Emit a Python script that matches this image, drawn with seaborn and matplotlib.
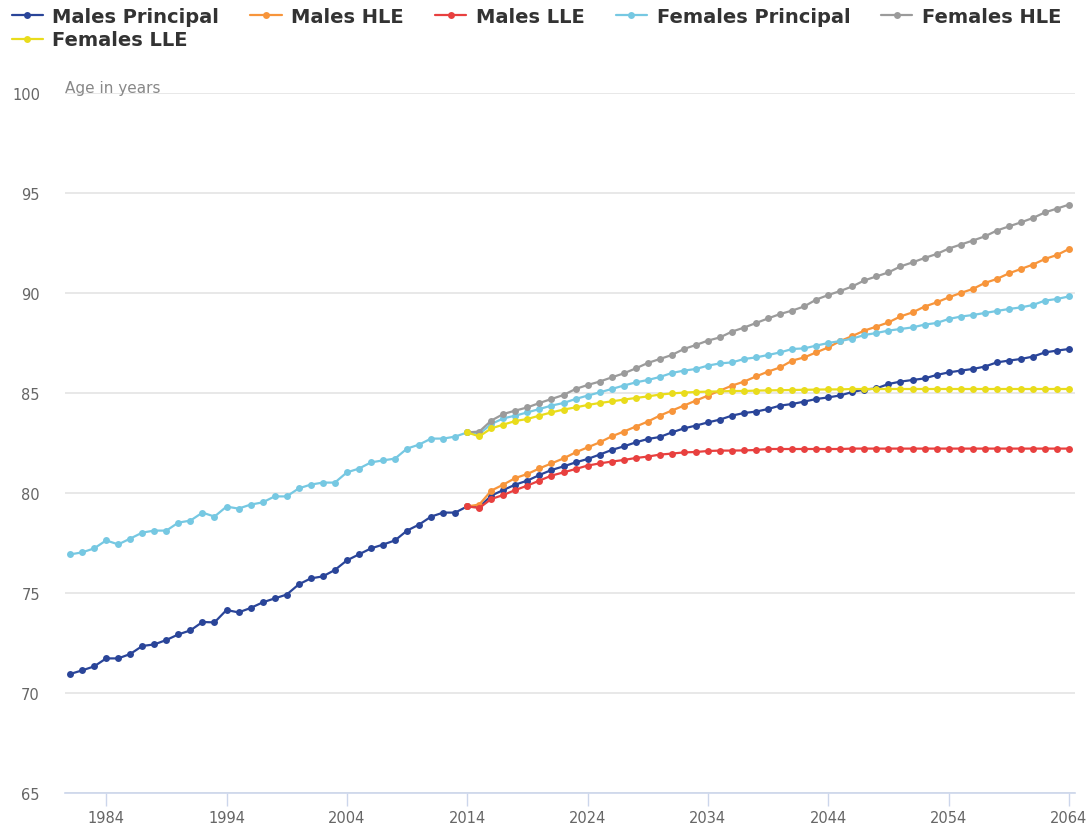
import numpy as np
import pandas as pd
import matplotlib
matplotlib.use('Agg')
import matplotlib.pyplot as plt
import seaborn as sns

# years
years_all = list(range(1981, 2065))
years_proj = list(range(2014, 2065))

# values (age in years)
males_principal = [70.95, 71.13, 71.33, 71.73, 71.73, 71.95, 72.35, 72.43, 72.65, 72.93,
                   73.13, 73.55, 73.53, 74.15, 74.03, 74.25, 74.53, 74.73, 74.92, 75.43,
                   75.73, 75.83, 76.15, 76.63, 76.93, 77.23, 77.42, 77.63, 78.12, 78.42,
                   78.82, 79.02, 79.02, 79.33, 79.30,
                   79.87, 80.15, 80.42, 80.62, 80.90, 81.15, 81.33, 81.53, 81.70, 81.92,
                   82.15, 82.33, 82.53, 82.70, 82.80,
                   83.03, 83.23, 83.37, 83.53, 83.67, 83.87, 84.00, 84.07, 84.20, 84.37,
                   84.45, 84.57, 84.70, 84.78, 84.88,
                   85.05, 85.17, 85.23, 85.45, 85.57, 85.65, 85.73, 85.90, 86.03, 86.12,
                   86.20, 86.32, 86.53, 86.62, 86.70, 86.82, 87.03, 87.12, 87.20]

males_hle = [79.33, 79.42,
             80.12, 80.42, 80.75, 80.95, 81.23, 81.48, 81.73, 82.03, 82.28, 82.53,
             82.83, 83.07, 83.32, 83.57, 83.87,
             84.12, 84.37, 84.62, 84.87, 85.12, 85.37, 85.57, 85.83, 86.07, 86.28,
             86.62, 86.78, 87.03, 87.28, 87.60,
             87.85, 88.12, 88.32, 88.53, 88.83, 89.03, 89.32, 89.53, 89.78, 90.00,
             90.20, 90.50, 90.70, 90.98, 91.20, 91.42, 91.70, 91.90, 92.20]

males_lle = [79.33, 79.25,
             79.70, 79.90, 80.15, 80.37, 80.62, 80.87, 81.03, 81.20, 81.37, 81.48,
             81.57, 81.65, 81.75, 81.82, 81.92,
             81.97, 82.03, 82.05, 82.10, 82.12, 82.12, 82.13, 82.15, 82.20, 82.20,
             82.20, 82.20, 82.20, 82.20, 82.20,
             82.22, 82.22, 82.22, 82.22, 82.22, 82.22, 82.22, 82.22, 82.22, 82.22,
             82.22, 82.22, 82.22, 82.22, 82.22, 82.22, 82.22, 82.22, 82.22]

females_principal = [76.93, 77.03, 77.23, 77.63, 77.43, 77.72, 78.02, 78.12, 78.12, 78.52,
                     78.62, 79.02, 78.82, 79.32, 79.22, 79.42, 79.53, 79.83, 79.83, 80.23,
                     80.42, 80.52, 80.52, 81.03, 81.22, 81.53, 81.63, 81.72, 82.22, 82.42,
                     82.72, 82.72, 82.82, 83.03, 82.95,
                     83.45, 83.73, 83.87, 84.03, 84.20, 84.37, 84.50, 84.70, 84.87, 85.03,
                     85.20, 85.37, 85.53, 85.65, 85.80,
                     86.00, 86.12, 86.20, 86.37, 86.48, 86.53, 86.70, 86.78, 86.90, 87.03,
                     87.20, 87.23, 87.37, 87.50, 87.60,
                     87.72, 87.90, 88.00, 88.12, 88.20, 88.28, 88.42, 88.50, 88.70, 88.82,
                     88.90, 89.00, 89.10, 89.20, 89.28, 89.40, 89.62, 89.70, 89.83]

females_hle = [83.03, 83.07,
               83.62, 83.95, 84.12, 84.28, 84.50, 84.70, 84.90, 85.20, 85.40, 85.57,
               85.78, 85.98, 86.23, 86.50, 86.70,
               86.90, 87.20, 87.40, 87.62, 87.78, 88.07, 88.27, 88.50, 88.73, 88.95,
               89.12, 89.33, 89.67, 89.90, 90.10,
               90.33, 90.63, 90.83, 91.03, 91.33, 91.53, 91.75, 91.95, 92.22, 92.42,
               92.62, 92.83, 93.12, 93.33, 93.53, 93.75, 94.03, 94.22, 94.42]

females_lle = [83.03, 82.83,
               83.23, 83.42, 83.60, 83.70, 83.87, 84.03, 84.17, 84.28, 84.40, 84.50,
               84.58, 84.67, 84.75, 84.83, 84.92,
               84.98, 85.02, 85.05, 85.07, 85.08, 85.10, 85.10, 85.12, 85.13, 85.14,
               85.15, 85.16, 85.17, 85.18, 85.18,
               85.20, 85.20, 85.20, 85.20, 85.20, 85.20, 85.20, 85.20, 85.20, 85.20,
               85.20, 85.20, 85.20, 85.20, 85.20, 85.20, 85.20, 85.20, 85.20]

series_names = ['Males Principal', 'Males HLE', 'Males LLE',
                'Females Principal', 'Females HLE', 'Females LLE']
colors = ['#2a4599', '#f7953b', '#e8403f', '#76c8e2', '#9b9b9b', '#e9dc1c']

sns.set_style('white')
plt.rcParams['font.family'] = ['DejaVu Sans']

frames = []
for name, yrs, vals in [(series_names[0], years_all, males_principal),
                        (series_names[1], years_proj, males_hle),
                        (series_names[2], years_proj, males_lle),
                        (series_names[3], years_all, females_principal),
                        (series_names[4], years_proj, females_hle),
                        (series_names[5], years_proj, females_lle)]:
    frames.append(pd.DataFrame({'Year': yrs, 'Age': vals, 'Series': name}))
df = pd.concat(frames, ignore_index=True)

fig = plt.figure(figsize=(10.92, 8.28), dpi=100)
ax = fig.add_axes([65/1092, 1-794/828, (1075-65)/1092, (794-94)/828])

sns.lineplot(data=df, x='Year', y='Age', hue='Series', hue_order=series_names,
             palette=colors, marker='o', markersize=5, markeredgewidth=0,
             linewidth=1.6, errorbar=None, legend=False, ax=ax)

ax.set_xlim(1980.58, 2064.5)
ax.set_ylim(65, 100)
ax.set_xticks(list(range(1984, 2065, 10)))
ax.set_yticks(list(range(65, 101, 5)))
ax.set_xlabel('')
ax.set_ylabel('')

ax.grid(axis='y', color='#e6e6e6', linewidth=1.3)
ax.grid(axis='x', visible=False)
ax.set_axisbelow(True)
for s in ['top', 'right', 'left']:
    ax.spines[s].set_visible(False)
ax.spines['bottom'].set_color('#ccd6eb')
ax.spines['bottom'].set_linewidth(1.2)

ax.tick_params(axis='x', length=9, width=1, color='#ccd6eb', labelsize=10.5,
               labelcolor='#666666', pad=3, bottom=True)
ax.tick_params(axis='y', length=0, labelsize=10.5, labelcolor='#666666', pad=18, left=False)

ax.text(0.0, 99.9, 'Age in years', transform=ax.get_yaxis_transform(),
        fontsize=11, color='#888888', ha='left', va='bottom')

# legend filled column by column, so reorder to read row by row
lines = ax.lines[:6]
order = [0, 5, 1, 2, 3, 4]
fig.legend([lines[i] for i in order], [series_names[i] for i in order],
           loc='upper left', bbox_to_anchor=(0.0, 1.005),
           ncol=5, frameon=False, prop={'weight': 'bold', 'size': 14},
           labelcolor='#333333', handlelength=1.6, handletextpad=0.5,
           columnspacing=1.6, labelspacing=0.25, borderaxespad=0.2)

fig.savefig('out.png', dpi=100)
